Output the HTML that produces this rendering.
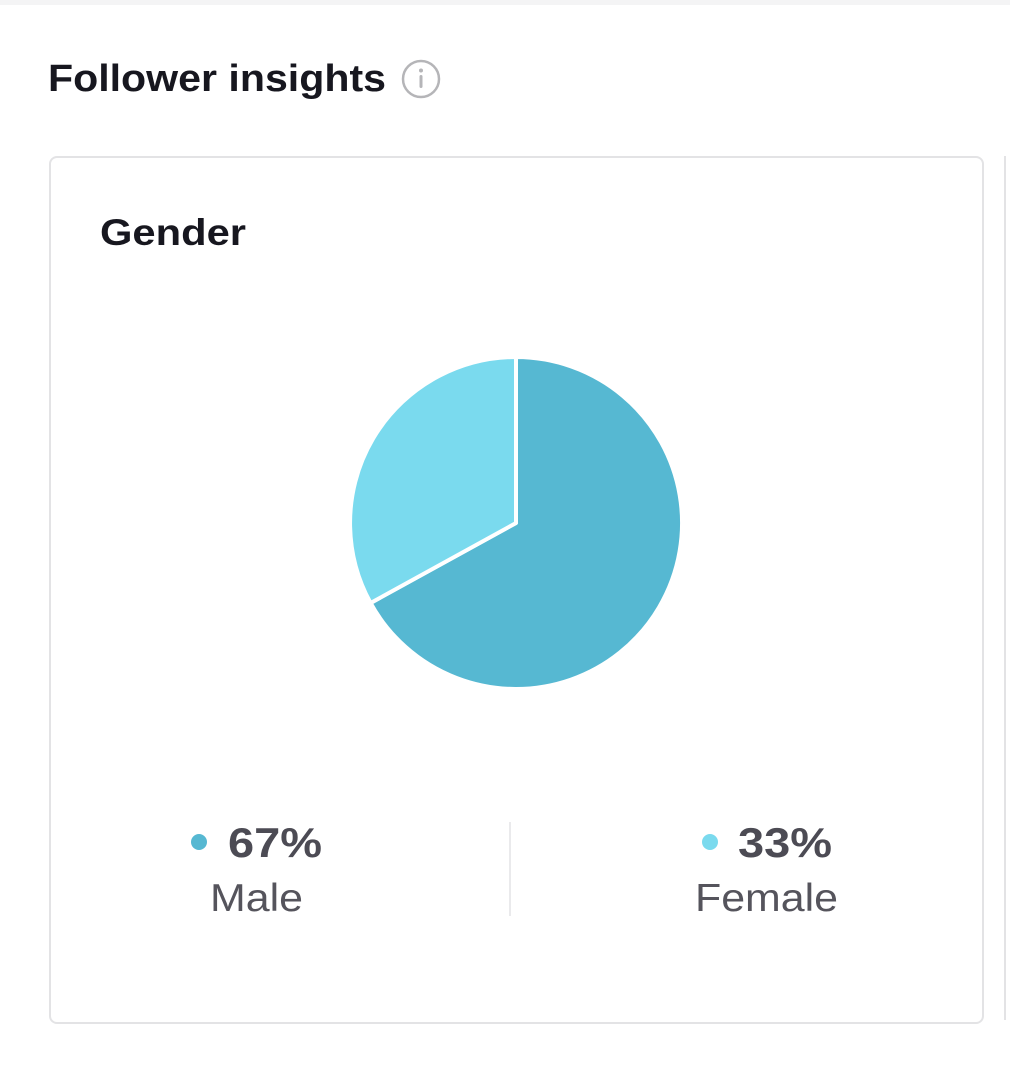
<!DOCTYPE html>
<html><head><meta charset="utf-8"><style>
html,body{margin:0;padding:0;width:1010px;height:1068px;background:#fff;overflow:hidden;font-family:"Liberation Sans",sans-serif;}
.abs{position:absolute;}
</style></head><body>
<div class="abs" style="left:0;top:0;width:1010px;height:5px;background:#f4f4f5;"></div>
<div class="abs" style="left:49px;top:156px;width:931px;height:864px;border:2px solid #e3e3e5;border-radius:8px;"></div>
<div class="abs" style="left:1004px;top:156px;width:10px;height:864px;border-left:2px solid #e3e3e5;"></div>
<svg class="abs" style="left:0;top:0" width="1010" height="1068" font-family="Liberation Sans, sans-serif">
<text x="48" y="91" font-size="38" font-weight="700" fill="#17171f" textLength="338" lengthAdjust="spacingAndGlyphs">Follower insights</text>
<circle cx="421" cy="79" r="18" fill="none" stroke="#b5b5b8" stroke-width="2.5"/>
<circle cx="421" cy="70.5" r="2" fill="#b5b5b8"/>
<rect x="419.5" y="75" width="3" height="13" rx="1.5" fill="#b5b5b8"/>
<text x="100" y="245" font-size="37" font-weight="700" fill="#17171f" textLength="146" lengthAdjust="spacingAndGlyphs">Gender</text>
<path d="M516,523 L516,357 A166,166 0 1,1 370.6,603 Z" fill="#56b8d2" stroke="#fff" stroke-width="4" stroke-linejoin="round"/>
<path d="M516,523 L370.6,603 A166,166 0 0,1 516,357 Z" fill="#7adaee" stroke="#fff" stroke-width="4" stroke-linejoin="round"/>
<circle cx="199" cy="842" r="8" fill="#56b8d2"/>
<circle cx="710" cy="842" r="8" fill="#7adaee"/>
<line x1="510" y1="822" x2="510" y2="916" stroke="#e3e3e5" stroke-width="1.5"/>
<text x="228" y="857" font-size="42" font-weight="700" fill="#4c4b54" textLength="94" lengthAdjust="spacingAndGlyphs">67%</text>
<text x="738" y="857" font-size="42" font-weight="700" fill="#4c4b54" textLength="94" lengthAdjust="spacingAndGlyphs">33%</text>
<text x="210" y="911" font-size="39" fill="#55545c" textLength="93" lengthAdjust="spacingAndGlyphs">Male</text>
<text x="695" y="911" font-size="39" fill="#55545c" textLength="143" lengthAdjust="spacingAndGlyphs">Female</text>
</svg>
</body></html>
